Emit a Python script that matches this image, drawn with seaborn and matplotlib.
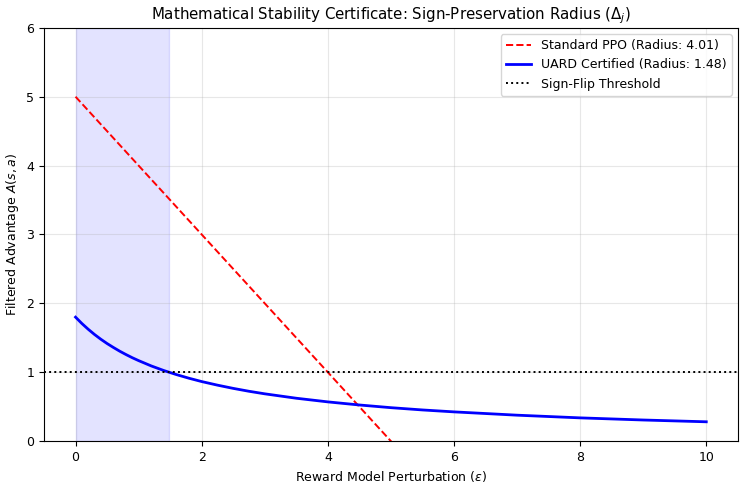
import numpy as np
import pandas as pd
import matplotlib
matplotlib.use("Agg")
import matplotlib.pyplot as plt
import seaborn as sns

# values
ppo_eps = [0.0, 10.0]
ppo_adv = [5.0, -5.0]
uard_eps = [0.0, 0.1, 0.2, 0.3, 0.4, 0.5, 0.6, 0.7, 0.8, 0.9, 1.0, 1.2, 1.4, 1.6, 1.8,
            2.0, 2.25, 2.5, 2.75, 3.0, 3.5, 4.0, 4.5, 5.0, 5.5, 6.0, 7.0, 8.0, 9.0, 10.0]
uard_adv = [1.800, 1.708, 1.625, 1.549, 1.480, 1.417, 1.360, 1.306, 1.257, 1.211,
            1.169, 1.092, 1.025, 0.966, 0.913, 0.865, 0.813, 0.766, 0.724, 0.687,
            0.623, 0.570, 0.525, 0.486, 0.453, 0.425, 0.377, 0.338, 0.307, 0.281]
threshold = 1.0
radius_ppo = 4.01
radius_uard = 1.48

ppo_df = pd.DataFrame({"eps": ppo_eps, "adv": ppo_adv})
uard_df = pd.DataFrame({"eps": uard_eps, "adv": uard_adv})

plt.rcParams.update({"font.size": 9, "axes.titlesize": 10.8, "axes.labelsize": 9,
                     "xtick.labelsize": 9, "ytick.labelsize": 9, "legend.fontsize": 9})

fig, ax = plt.subplots(figsize=(7.46, 4.88), dpi=100)
ax.axvspan(0, radius_uard, color="blue", alpha=0.11)
sns.lineplot(data=ppo_df, x="eps", y="adv", ax=ax, color="red", linestyle="--",
             linewidth=1.4, label=f"Standard PPO (Radius: {radius_ppo:.2f})")
sns.lineplot(data=uard_df, x="eps", y="adv", ax=ax, color="blue", linewidth=2,
             label=f"UARD Certified (Radius: {radius_uard:.2f})")
ax.axhline(threshold, color="black", linestyle=":", linewidth=1.4, label="Sign-Flip Threshold")

ax.set_xlim(-0.5, 10.5)
ax.set_ylim(0, 6)
ax.grid(alpha=0.3)
ax.set_title(r"Mathematical Stability Certificate: Sign-Preservation Radius ($\Delta_j$)")
ax.set_xlabel(r"Reward Model Perturbation ($\epsilon$)")
ax.set_ylabel(r"Filtered Advantage $A(s,a)$")
ax.legend(loc="upper right")
fig.subplots_adjust(left=0.059, right=0.989, top=0.943, bottom=0.096)
fig.savefig("out.png", dpi=100)
